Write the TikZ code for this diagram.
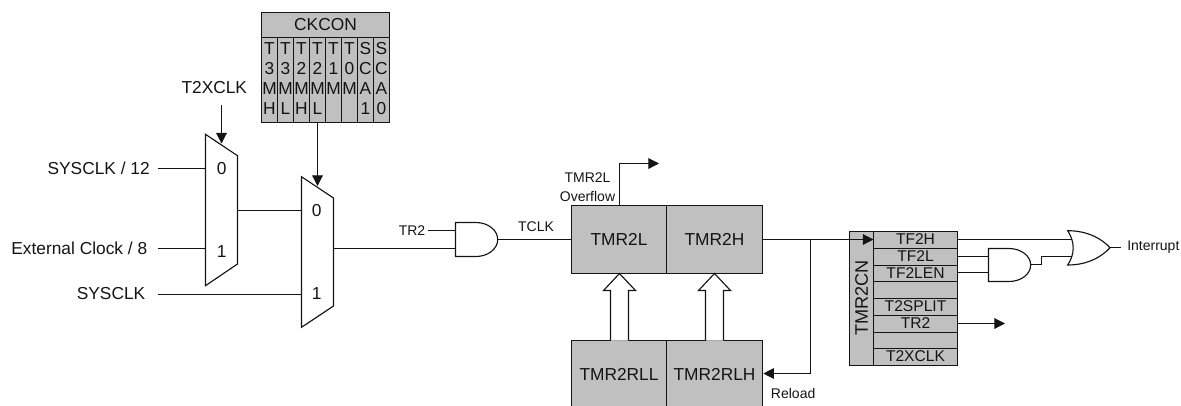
\documentclass[tikz,border=0pt]{standalone}
\usepackage{fontspec}
\setmainfont{Liberation Sans}
\usetikzlibrary{arrows.meta}
\definecolor{regfill}{HTML}{C0C0C0}
\definecolor{ink}{HTML}{141414}
\newcommand{\pxfont}[1]{\fontsize{#1}{#1}\selectfont}
\tikzset{
  wire/.style={draw=ink,line width=0.85pt},
  arrowed/.style={wire,-{Triangle[length=8pt,width=8pt]}},
  gate/.style={draw=ink,line width=0.85pt,line join=miter},
  reg/.style={draw=ink,line width=0.85pt,fill=regfill,inner sep=0pt,outer sep=0pt,anchor=north west,text=ink,font=\pxfont{13pt}},
  big/.style={inner sep=0pt,text=ink,font=\pxfont{13pt}},
  small/.style={inner sep=0pt,text=ink,font=\pxfont{10.5pt}},
  flag/.style={inner sep=0pt,text=ink,font=\pxfont{11.7pt}},
  hollow/.style={draw=ink,line width=0.85pt,fill=white,line join=miter},
}
\newcommand{\regbox}[6]{% name, x, y, w, h, text
  \node[reg,minimum width=#4*0.75pt,minimum height=#5*0.75pt] (#1) at (#2,#3) {#6};}
\begin{document}
\begin{tikzpicture}[x=0.75pt,y=-0.75pt]
\useasboundingbox (0,0) rectangle (1181,405);

% ---------- CKCON ----------
\regbox{ckhead}{261.5}{12.5}{128}{25}{CKCON}
\foreach \i/\xx/\txt in {1/261.5/{T\\3\\M\\H},2/277.5/{T\\3\\M\\L},3/293.5/{T\\2\\M\\H},4/309.5/{T\\2\\M\\L},5/325.5/{T\\1\\M},6/341.5/{T\\0\\M},7/357.5/{S\\C\\A\\1},8/373.5/{S\\C\\A\\0}}{
  \node[reg,minimum width=16*0.75pt,minimum height=85*0.75pt] (ck\i) at (\xx,37.5) {};
  \node[big,anchor=north,align=center,font=\fontsize{13pt}{15pt}\selectfont] (cktxt\i) at ([yshift=-3.4pt]ck\i.north) {\txt};
}

% ---------- Multiplexers ----------
\coordinate (m1tl) at (205.5,134.3);
\coordinate (m1tr) at (237.5,155.7);
\coordinate (m1br) at (237.5,264);
\coordinate (m1bl) at (205.5,285.7);
\draw[gate] (m1tl) -- (m1tr) -- (m1br) -- (m1bl) -- cycle;
\coordinate (m2tl) at (301.5,176.7);
\coordinate (m2tr) at (333.5,198);
\coordinate (m2br) at (333.5,306);
\coordinate (m2bl) at (301.5,327.3);
\draw[gate] (m2tl) -- (m2tr) -- (m2br) -- (m2bl) -- cycle;
\node[big] (m1zero) at (221.7,168.5) {0};
\node[big] (m1one) at (221.7,252) {1};
\node[big] (m2zero) at (316.7,211) {0};
\node[big] (m2one) at (316.7,294) {1};

% ---------- Inputs ----------
\node[big,anchor=east] (sys12) at (150,168) {SYSCLK / 12};
\node[big,anchor=east] (ext8) at (147.5,248) {External Clock / 8};
\node[big,anchor=east] (sys) at (145.5,293.5) {SYSCLK};
\node[big] (t2x) at (214.3,87.5) {T2XCLK};
\coordinate (sys12w) at (158,168.5);
\coordinate (ext8w) at (158,248.5);
\coordinate (sysw) at (158,294.5);
\coordinate (m1in0) at (205.5,168.5);
\coordinate (m1in1) at (205.5,248.5);
\coordinate (m2in1) at (301.5,294.5);
\coordinate (m1out) at (237.5,210.5);
\coordinate (m2in0) at (301.5,210.5);
\draw[wire] (sys12w) -- (m1in0);
\draw[wire] (ext8w) -- (m1in1);
\draw[wire] (sysw) -- (m2in1);
\draw[wire] (m1out) -- (m2in0);
\coordinate (t2xw) at (221.5,105);
\coordinate (m1sel) at (221.5,143.5);
\draw[arrowed] (t2xw) -- (m1sel);
\coordinate (m2sel) at (317.5,186);
\draw[arrowed] (ck4.south -| m2sel) -- (m2sel);

% ---------- AND gate (TCLK) ----------
\coordinate (a1tl) at (455.5,222.5);
\coordinate (a1bl) at (455.5,256.5);
\coordinate (a1tip) at (497.7,239.5);
\draw[gate] (a1tl) -- (476,222.5) arc[start angle=90,end angle=-90,x radius=21.7,y radius=-17] -- (a1bl) -- cycle;
\coordinate (a1in1) at (455.5,230.5);
\coordinate (a1in2) at (455.5,248.5);
\coordinate (m2out) at (333.5,248.5);
\coordinate (tr2w) at (428,230.5);
\node[small,anchor=east] (tr2lab) at (425.5,230.5) {TR2};
\draw[wire] (tr2w) -- (a1in1);
\draw[wire] (m2out) -- (a1in2);
\node[small] (tclk) at (536,226.5) {TCLK};

% ---------- TMR2 registers ----------
\regbox{tl}{571.5}{205.5}{95}{68}{TMR2L}
\regbox{th}{666.5}{205.5}{96}{68}{TMR2H}
\regbox{rll}{571.5}{340.5}{95}{68}{TMR2RLL}
\regbox{rlh}{666.5}{340.5}{96}{68}{TMR2RLH}
\draw[wire] (a1tip) -- (tl.west |- a1tip);

% hollow arrows
\foreach \cx/\nm in {619.5/hl,714.5/hh}{
  \coordinate (\nm tip) at (\cx,273.5);
  \draw[hollow] (\cx-9,340.5) -- (\cx-9,290.5) -- (\cx-16,290.5) -- (\nm tip) -- (\cx+16,290.5) -- (\cx+9,290.5) -- (\cx+9,340.5);
}

% overflow
\coordinate (ovbend) at (619.5,163.5);
\coordinate (ovtip) at (659,163.5);
\draw[arrowed] (tl.north -| ovbend) -- (ovbend) -- (ovtip);
\node[small] (ov1) at (587.5,178) {TMR2L};
\node[small] (ov2) at (587.5,196.5) {Overflow};

% ---------- TMR2CN ----------
\node[reg,minimum width=24*0.75pt,minimum height=134*0.75pt] (cnside) at (849.5,231.5) {};
\node[big,rotate=90,font=\pxfont{13.6pt}] (cnlab) at (861.5,298) {TMR2CN};
\foreach \i/\yy/\hh/\txt in {1/231.5/17/TF2H,2/248.5/17/TF2L,3/265.5/16/TF2LEN,4/281.5/17/,5/298.5/17/T2SPLIT,6/315.5/17/TR2,7/332.5/16/,8/348.5/17/T2XCLK}{
  \node[reg,flag,draw=ink,fill=regfill,anchor=north west,minimum width=84*0.75pt,minimum height=\hh*0.75pt] (cn\i) at (873.5,\yy) {};
  \node[flag] (cnt\i) at ([yshift=0.6pt]cn\i.center) {\txt};
}

% main output + reload
\coordinate (junc) at (810.5,239.5);
\coordinate (cntip) at (873.5,239.5);
\coordinate (rlcor) at (810.5,373.5);
\coordinate (rltip) at (763.3,373.5);
\draw[wire] (th.east |- junc) -- (junc);
\draw[arrowed] (junc) -- (cntip);
\draw[arrowed] (junc) -- (rlcor) -- (rltip);
\node[small,anchor=west] (reload) at (770.7,393) {Reload};

% ---------- Interrupt logic ----------
\coordinate (a2tl) at (988.5,248.5);
\coordinate (a2bl) at (988.5,281.5);
\coordinate (a2tip) at (1030.7,264.5);
\draw[gate] (a2tl) -- (1009,248.5) arc[start angle=90,end angle=-90,x radius=21.7,y radius=-16.5] -- (a2bl) -- cycle;
\coordinate (or1) at (1071.7,239.5);
\coordinate (or2) at (1072.3,256.5);
\coordinate (ortip) at (1110,247.7);
\draw[gate] (1067.7,230.7) .. controls (1088,230.7) and (1102,239) .. (ortip)
  .. controls (1102,256.5) and (1088,265) .. (1067.7,265)
  .. controls (1075,254) and (1075,242) .. cycle;
\draw[wire] (cn1.east |- or1) -- (or1);
\draw[wire] (cn2.east |- 0,256.5) -- (988.5,256.5);
\draw[wire] (cn3.east |- 0,272.5) -- (988.5,272.5);
\draw[wire] (a2tip) -- (1041.5,264.5) -- (1041.5,256.5) -- (or2);
\coordinate (intw) at (1121,247.5);
\draw[wire] (ortip |- intw) -- (intw);
\node[small,anchor=west] (intr) at (1127,247) {Interrupt};
\coordinate (tr2tip) at (1005,323.5);
\draw[arrowed] (cn6.east |- tr2tip) -- (tr2tip);
\end{tikzpicture}
\end{document}
